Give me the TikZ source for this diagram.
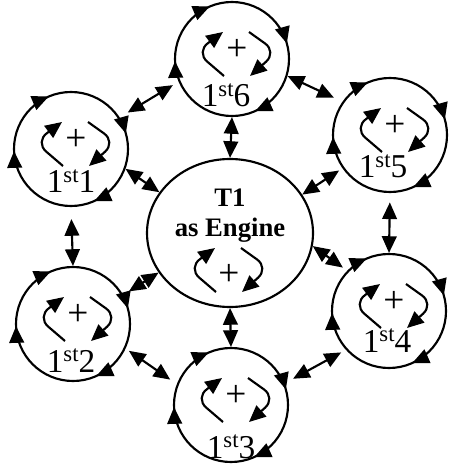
\documentclass[tikz,border=0pt]{standalone}
\usepackage{fontspec}
\setmainfont{Liberation Serif}
\usetikzlibrary{arrows.meta,shapes.geometric,decorations.markings}
\tikzset{>={Triangle[length=12.5pt,width=11pt]}}
\tikzset{
  ring/.style={circle,draw,minimum size=85.5pt,inner sep=0pt,
    postaction={decorate},
    decoration={markings,
      mark=at position 0.044 with {\arrowreversed{>}},
      mark=at position 0.314 with {\arrowreversed{>}},
      mark=at position 0.506 with {\arrowreversed{>}},
      mark=at position 0.817 with {\arrowreversed{>}}}},
  engine/.style={ellipse,draw,minimum width=124.5pt,minimum height=111pt,inner sep=0pt},
  lbl/.style={inner sep=0pt,font=\fontsize{25}{25}\selectfont},
  pics/plusloop/.style={code={
    \node[inner sep=0pt,font=\fontsize{28}{28}\selectfont] (-plus) at (0,#1) {+};
    \draw[rounded corners=11pt,->] (-13,22) -- (-41,-2) -- (-14,-22);
    \draw[rounded corners=11pt,->] (12,-22) -- (40,-2) -- (13,22);
  }}
}

\begin{document}
\begin{tikzpicture}[x=0.75pt,y=-0.75pt,line width=1.6pt]
\useasboundingbox (0,0) rectangle (453,466);

% ============ the six outer loops ============
\foreach \n/\x/\y/\lx/\ly in {1/71/149/71/193, 2/73/324/71/372, 3/231/405/231/458,
                               4/389/311/387/352, 5/390/135/383/178, 6/232/59/226/107} {
  \node[ring] (s\n) at (\x,\y) {};
  \pic (p\n) at ([shift={(5,-5)}]s\n.center) {plusloop=-4};
  \node[lbl,anchor=base] (l\n) at (\lx,\ly) {1\raisebox{8pt}{\fontsize{17}{17}\selectfont st}\n};
}

% ============ engine in the middle ============
\node[engine] (t1) at (230,233) {};
\node[inner sep=0pt,align=center,font=\bfseries\fontsize{20}{22.5}\selectfont] (t1text) at (230,216) {T1\\as Engine};
\pic (p0) at (229,270) {plusloop=5};

% ============ links ============
\draw[<->] (s6.south) -- (t1.north);
\draw[<->,shorten >=7pt] (s6.-17) -- (s5.145);
\draw[<->,shorten <=5pt,shorten >=7pt] (s6.203) -- (s1.33);
\draw[<->] (s1.-20) -- (t1.150);
\draw[<->,shorten <=9pt] (s1.south) -- (s2.north);
\draw[<->,shorten <=5pt] (s2.30) -- (t1.209);
\draw[<->,shorten <=3pt,shorten >=6pt] (s2.-25) -- (s3.159);
\draw[<->] (t1.south) -- (s3.north);
\draw[<->,shorten <=7pt,shorten >=4pt] (s3.22) -- (s4.222);
\draw[<->,shorten >=4pt] (t1.-9) -- (s4.136);
\draw[<->,shorten <=7pt] (s5.south) -- (s4.north);
\draw[<->,shorten <=3pt] (s5.215) -- (t1.28);

\end{tikzpicture}
\end{document}
